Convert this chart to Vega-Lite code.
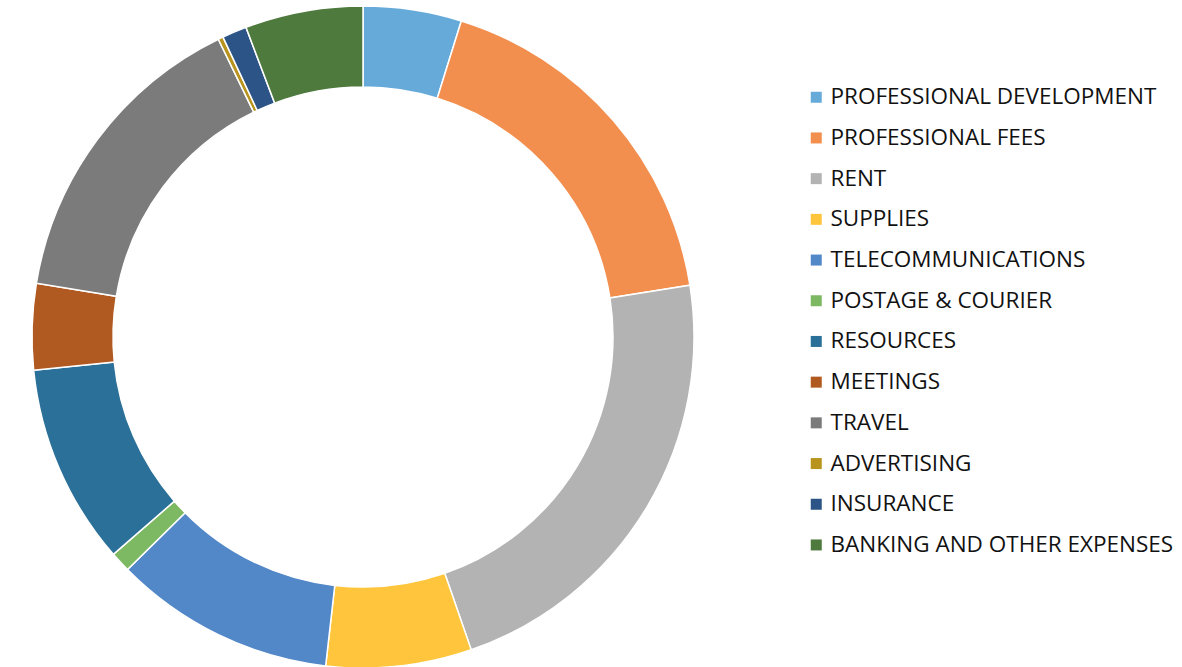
{
  "$schema": "https://vega.github.io/schema/vega-lite/v6.json",
  "width": 726,
  "height": 674,
  "padding": 0,
  "autosize": {"type": "pad"},
  "background": "white",
  "config": {"view": {"stroke": null}},
  "data": {
    "values": [
      {"category": "PROFESSIONAL DEVELOPMENT", "order": 1, "value": 4.8},
      {"category": "PROFESSIONAL FEES", "order": 2, "value": 17.7},
      {"category": "RENT", "order": 3, "value": 22.2},
      {"category": "SUPPLIES", "order": 4, "value": 7.1},
      {"category": "TELECOMMUNICATIONS", "order": 5, "value": 10.8},
      {"category": "POSTAGE & COURIER", "order": 6, "value": 1.0},
      {"category": "RESOURCES", "order": 7, "value": 9.8},
      {"category": "MEETINGS", "order": 8, "value": 4.2},
      {"category": "TRAVEL", "order": 9, "value": 15.2},
      {"category": "ADVERTISING", "order": 10, "value": 0.25},
      {"category": "INSURANCE", "order": 11, "value": 1.2},
      {"category": "BANKING AND OTHER EXPENSES", "order": 12, "value": 5.75}
    ]
  },
  "mark": {"type": "arc", "outerRadius": 331, "innerRadius": 250, "stroke": "white", "strokeWidth": 1.5},
  "encoding": {
    "theta": {"field": "value", "type": "quantitative", "stack": true},
    "order": {"field": "order", "type": "quantitative"},
    "color": {
      "field": "category",
      "type": "nominal",
      "sort": ["PROFESSIONAL DEVELOPMENT", "PROFESSIONAL FEES", "RENT", "SUPPLIES", "TELECOMMUNICATIONS", "POSTAGE & COURIER", "RESOURCES", "MEETINGS", "TRAVEL", "ADVERTISING", "INSURANCE", "BANKING AND OTHER EXPENSES"],
      "scale": {
        "domain": ["PROFESSIONAL DEVELOPMENT", "PROFESSIONAL FEES", "RENT", "SUPPLIES", "TELECOMMUNICATIONS", "POSTAGE & COURIER", "RESOURCES", "MEETINGS", "TRAVEL", "ADVERTISING", "INSURANCE", "BANKING AND OTHER EXPENSES"],
        "range": ["#66AADA", "#F28E4E", "#B3B3B3", "#FFC53D", "#5287C8", "#7DB863", "#2A7099", "#B05A22", "#7B7B7B", "#B8941F", "#2C5487", "#4E7A3E"]
      },
      "legend": {
        "orient": "none",
        "legendX": 805,
        "legendY": 86,
        "title": null,
        "symbolType": "square",
        "symbolSize": 121,
        "symbolStrokeWidth": 0,
        "labelFont": "Open Sans",
        "labelFontSize": 22.5,
        "labelColor": "#111111",
        "labelOffset": 3,
        "rowPadding": 17.7,
        "labelLimit": 400
      }
    }
  }
}
